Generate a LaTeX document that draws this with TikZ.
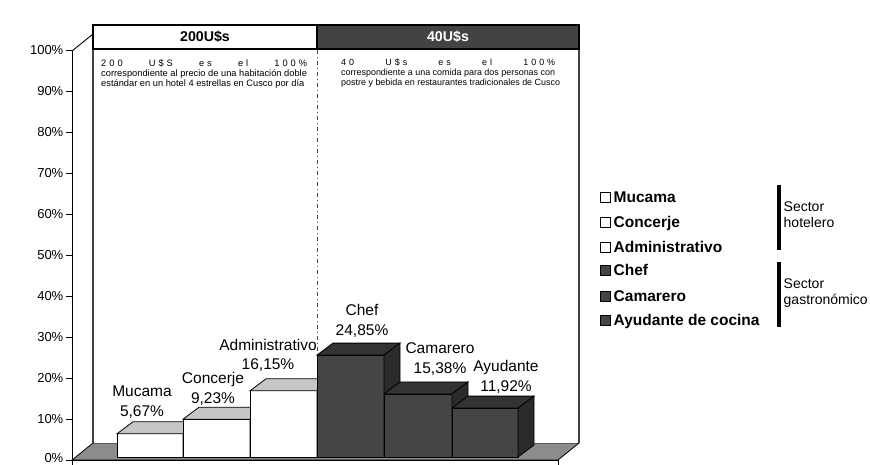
\documentclass[tikz,border=0pt]{standalone}
\usepackage{fontspec}
\setmainfont{Liberation Sans}
\definecolor{darkbar}{HTML}{454545}
\definecolor{darktop}{HTML}{333333}
\definecolor{darkside}{HTML}{2A2A2A}
\definecolor{lighttop}{HTML}{C6C6C6}
\definecolor{floorgray}{HTML}{8C8C8C}
\definecolor{hdrdark}{HTML}{434343}
\newcommand\cubebar[6]{%
  \filldraw[barline,fill=#4] (#1,457) rectangle (#2,#3);
  \filldraw[barline,fill=#5] (#1,#3) -- ++(16,-12) -- ({#2+16},{#3-12}) -- (#2,#3) -- cycle;
  \filldraw[barline,fill=#6] (#2,#3) -- ({#2+16},{#3-12}) -- ({#2+16},445) -- (#2,457) -- cycle;
}
\begin{document}
\begin{tikzpicture}[x=1pt,y=-1pt,
  every node/.style={inner sep=0pt},
  barline/.style={draw=black,line width=0.8pt},
  axisline/.style={draw=black,line width=0.9pt},
  ylab/.style={anchor=east,font=\fontsize{13}{15}\selectfont},
  hdr/.style={draw=black,line width=1.9pt,font=\fontsize{14.2}{16}\selectfont\bfseries},
  smallA/.style={anchor=base west,font=\fontsize{9.3}{10.3}\selectfont},
  smallB/.style={anchor=base west,font=\fontsize{8.95}{10.3}\selectfont},
  barlab/.style={align=center,font=\fontsize{15.5}{19.5}\selectfont},
  legsq/.style={draw=black,line width=0.8pt,minimum width=10.5pt,minimum height=10.5pt},
  legtxt/.style={anchor=base west,font=\fontsize{15.5}{18}\selectfont\bfseries},
  sectxt/.style={anchor=west,align=left,font=\fontsize{14}{16}\selectfont},
  secbar/.style={line width=3.5pt}]
\useasboundingbox (0,0) rectangle (870,465);
% floor
\filldraw[fill=floorgray,draw=black,line width=0.8pt] (72,460) -- (93,443) -- (579,443) -- (558,460) -- cycle;
% back wall
\fill[white] (93,34) rectangle (579,443);
\draw[line width=1.2pt,draw=black!75] (93,34) -- (93,443);
\draw[line width=1.2pt,draw=black!75] (579,49) -- (579,443);
% y axis
\draw[axisline] (72,51) -- (72,465);
\draw[axisline] (72,51) -- (93,34);
\draw[axisline] (72,460) -- (558,460);
\draw[axisline] (558,460) -- (558,465);
\foreach \i in {0,...,10}{
  \pgfmathsetmacro\yy{460-41*\i}
  \draw[axisline] (66,\yy) -- (72,\yy);
}
\foreach \i in {1,...,10}{
  \pgfmathsetmacro\yy{460-41*\i}
  \node[ylab] (ylab\i) at (63.5,\yy) {\pgfmathparse{int(10*\i)}\pgfmathresult\%};
}
\node[ylab] (ylab0) at (63.5,458.5) {0\%};
% divider
\draw[line width=0.8pt,draw=black!70,dash pattern=on 4pt off 3pt on 1pt off 3pt] (317,50) -- (317,356);
% headers
\node[hdr,fill=white,minimum width=224pt,minimum height=24pt] (h1) at (205,37) {200U\$s};
\node[hdr,fill=hdrdark,text=white,minimum width=262pt,minimum height=24pt] (h2) at (448,37) {40U\$s};
% panel texts
\node[smallA] (p1a) at (101,66.5) {\makebox[206pt][s]{2\hspace{3pt}0\hspace{3pt}0\hfill U\hspace{3pt}\$\hspace{3pt}S\hfill e\hspace{3pt}s\hfill e\hspace{3pt}l\hfill 1\hspace{3pt}0\hspace{3pt}0\hspace{3pt}\%}};
\node[smallA] (p1b) at (101,76.5) {correspondiente al precio de una habitación doble};
\node[smallA] (p1c) at (101,86.5) {estándar en un hotel 4 estrellas en Cusco por día};
\node[smallB] (p2a) at (341,65.5) {\makebox[214pt][s]{4\hspace{3pt}0\hfill U\hspace{3pt}\$\hspace{3pt}s\hfill e\hspace{3pt}s\hfill e\hspace{3pt}l\hfill 1\hspace{3pt}0\hspace{3pt}0\hspace{3pt}\%}};
\node[smallB] (p2b) at (341,76) {correspondiente a una comida para dos personas con};
\node[smallB] (p2c) at (341,86) {postre y bebida en restaurantes tradicionales de Cusco};
% bars
\cubebar{117}{183}{433.8}{white}{lighttop}{lighttop}
\cubebar{183}{250}{419.2}{white}{lighttop}{lighttop}
\cubebar{250}{317}{390.8}{white}{lighttop}{lighttop}
\cubebar{317}{384}{355.1}{darkbar}{darktop}{darkside}
\cubebar{384}{452}{393.9}{darkbar}{darktop}{darkside}
\cubebar{452}{518}{408.1}{darkbar}{darktop}{darkside}
% bar labels
\node[barlab] (lmuc) at (142,402) {Mucama\\5,67\%};
\node[barlab] (lcon) at (213,389) {Concerje\\9,23\%};
\node[barlab] (ladm) at (268,355.5) {Administrativo\\16,15\%};
\node[barlab] (lche) at (362,321) {Chef\\24,85\%};
\node[barlab] (lcam) at (440,359) {Camarero\\15,38\%};
\node[barlab] (lay) at (506,377) {Ayudante\\11,92\%};
% legend
\node[legsq,fill=white] (sq1) at (605.5,197.5) {};
\node[legsq,fill=white] (sq2) at (605.5,222.5) {};
\node[legsq,fill=white] (sq3) at (605.5,247.5) {};
\node[legsq,fill=darkbar] (sq4) at (605.5,270.5) {};
\node[legsq,fill=darkbar] (sq5) at (605.5,296.5) {};
\node[legsq,fill=darkbar] (sq6) at (605.5,320.5) {};
\node[legtxt] (lt1) at (613.5,202.5) {Mucama};
\node[legtxt] (lt2) at (613.5,227.5) {Concerje};
\node[legtxt] (lt3) at (613.5,252.5) {Administrativo};
\node[legtxt] (lt4) at (613.5,275.5) {Chef};
\node[legtxt] (lt5) at (613.5,301.5) {Camarero};
\node[legtxt] (lt6) at (613.5,325.5) {Ayudante de cocina};
\coordinate (b1t) at (779,185);
\coordinate (b1b) at (779,250);
\coordinate (b2t) at (779,262);
\coordinate (b2b) at (779,327);
\draw[secbar] (b1t) -- (b1b);
\draw[secbar] (b2t) -- (b2b);
\node[sectxt] (s1) at (783.5,215) {Sector\\hotelero};
\node[sectxt] (s2) at (783.5,293) {Sector\\gastronómico};
\end{tikzpicture}
\end{document}
